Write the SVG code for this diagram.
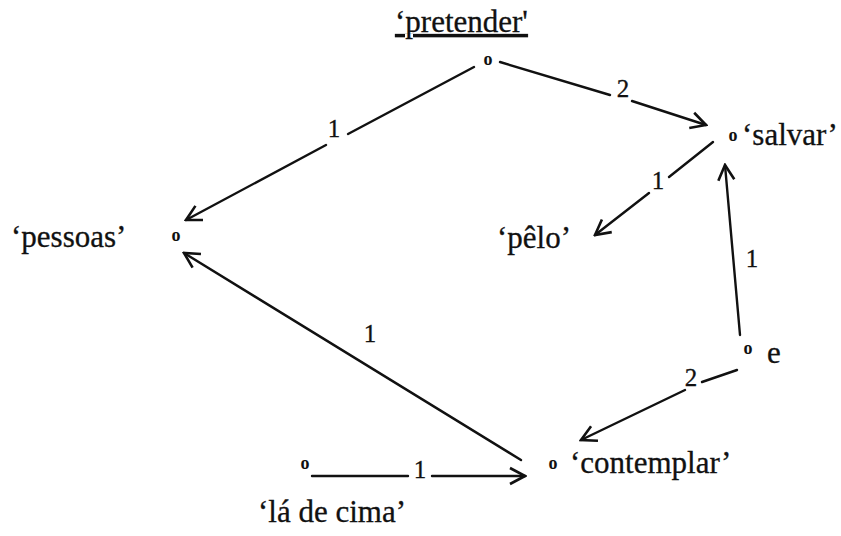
<svg xmlns="http://www.w3.org/2000/svg" width="841" height="536" viewBox="0 0 841 536">
<style>
.t{font-family:"Liberation Serif","Times New Roman",serif;font-size:31px;fill:#111;stroke:#111;stroke-width:0.3}
.n{font-family:"Liberation Serif","Times New Roman",serif;font-size:18px;font-weight:bold;fill:#111}
.l{font-family:"Liberation Serif","Times New Roman",serif;font-size:25px;fill:#111;stroke:#111;stroke-width:0.3;text-anchor:middle}
.e{stroke:#111;stroke-width:2.4;fill:none;stroke-linecap:round}
</style>
<defs>
<marker id="ah" markerUnits="userSpaceOnUse" markerWidth="22" markerHeight="22" viewBox="0 0 22 22" refX="20" refY="11" orient="auto">
<path d="M5,3 L20,11 L5,19" fill="none" stroke="#111" stroke-width="2.6" stroke-linejoin="miter"/>
</marker>
</defs>
<rect width="841" height="536" fill="#fff"/>
<g id="connectors">
<line class="e" x1="474" y1="67" x2="348" y2="134"/>
<line class="e" x1="326" y1="145" x2="186" y2="220" marker-end="url(#ah)"/>
<text class="l" x="334" y="137">1</text>
<line class="e" x1="500" y1="62" x2="610" y2="95"/>
<line class="e" x1="632" y1="101" x2="706" y2="125" marker-end="url(#ah)"/>
<text class="l" x="623" y="97">2</text>
<line class="e" x1="713" y1="142" x2="669" y2="177"/>
<line class="e" x1="649" y1="193" x2="595" y2="235" marker-end="url(#ah)"/>
<text class="l" x="658" y="189">1</text>
<line class="e" x1="740" y1="335" x2="725" y2="165" marker-end="url(#ah)"/>
<text class="l" x="752" y="267">1</text>
<line class="e" x1="737" y1="370" x2="702" y2="382"/>
<line class="e" x1="685" y1="390" x2="581" y2="440" marker-end="url(#ah)"/>
<text class="l" x="691" y="386">2</text>
<line class="e" x1="521" y1="460" x2="184" y2="253" marker-end="url(#ah)"/>
<text class="l" x="370" y="342">1</text>
<line class="e" x1="312" y1="476" x2="408" y2="476"/>
<line class="e" x1="432" y1="476" x2="525" y2="476" marker-end="url(#ah)"/>
<text class="l" x="420" y="478">1</text>
</g>
<g id="pretender">
<text class="n" x="488" y="65" text-anchor="middle">o</text>
<text class="t" x="395" y="32" text-decoration="underline">‘pretender'</text>
</g>
<g id="salvar">
<text class="n" x="733" y="141" text-anchor="middle">o</text>
<text class="t" x="742" y="145">‘salvar’</text>
</g>
<g id="pessoas">
<text class="n" x="176" y="241" text-anchor="middle">o</text>
<text class="t" x="11" y="247">‘pessoas’</text>
</g>
<g id="pelo">
<text class="t" x="497" y="248">‘pêlo’</text>
</g>
<g id="e">
<text class="n" x="748" y="354" text-anchor="middle">o</text>
<text class="t" x="767" y="363">e</text>
</g>
<g id="contemplar">
<text class="n" x="553" y="469" text-anchor="middle">o</text>
<text class="t" x="570" y="473">‘contemplar’</text>
</g>
<g id="la-de-cima">
<text class="n" x="305" y="469" text-anchor="middle">o</text>
<text class="t" x="258" y="522">‘lá de cima’</text>
</g>
</svg>
